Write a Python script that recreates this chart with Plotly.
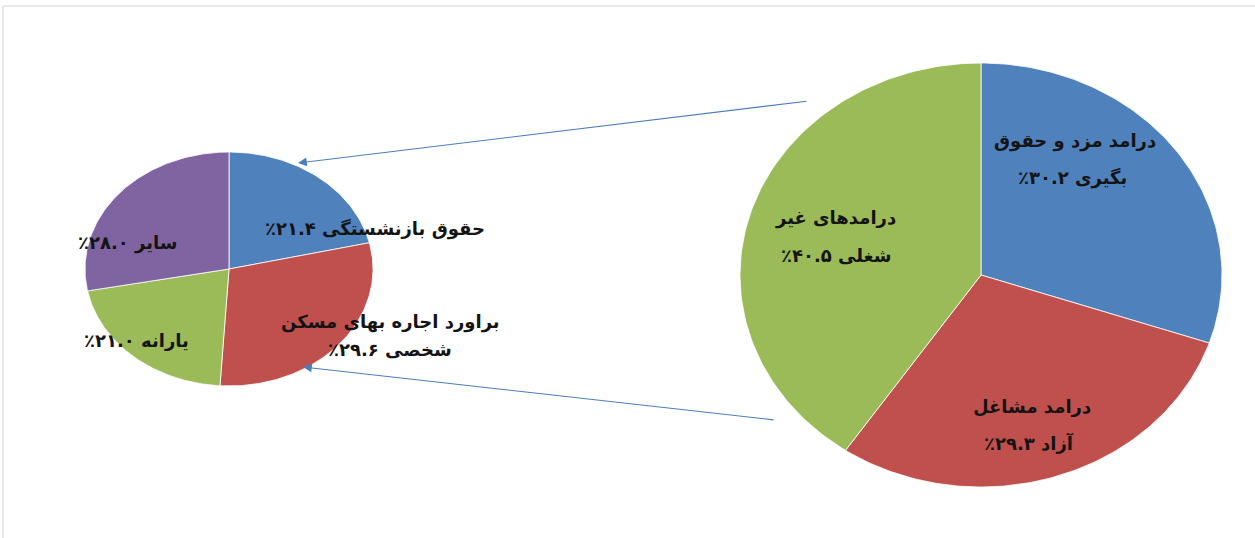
import numpy as np
import plotly.graph_objects as go

# ---- data ----
main_labels = ["درامد مزد و حقوق\nبگیری", "درامد مشاغل\nآزاد", "درامدهای غیر\nشغلی"]
main_values = [30.2, 29.3, 40.5]
main_colors = ["#4F81BD", "#C0504D", "#9BBB59"]

sub_labels = ["حقوق بازنشستگی", "براورد اجاره بهای مسکن\nشخصی", "یارانه", "سایر"]
sub_values = [21.4, 29.6, 21.0, 28.0]
sub_colors = ["#4F81BD", "#C0504D", "#9BBB59", "#8064A2"]

# ---- layout constants (page pixel space) ----
W, H = 1255, 538
MAIN = dict(cx=981, cy=275, a=241, b=212)
SUB = dict(cx=229, cy=269, a=144, b=117)

# label line positions (centre x, y for each line)
main_label_pos = [[(1075, 141), (1072, 178)],
                  [(1032, 406), (1029, 443)],
                  [(835, 218), (836, 255)]]
sub_label_pos = [[(375, 229)],
                 [(390, 322), (390, 349)],
                 [(136, 340)],
                 [(127, 243)]]

FA = str.maketrans("0123456789", "۰۱۲۳۴۵۶۷۸۹")


def fa(v):
    return f"{v:.1f}".translate(FA)


def rtl(s):
    return "\u202b" + s + "\u202c"


def wedge(geo, t0, t1, n=120):
    t = np.radians(np.linspace(t0, t1, n))
    xs = np.concatenate([[geo["cx"]], geo["cx"] + geo["a"] * np.sin(t), [geo["cx"]]])
    ys = np.concatenate([[geo["cy"]], geo["cy"] - geo["b"] * np.cos(t), [geo["cy"]]])
    return xs, ys


fig = go.Figure()


def add_pie(geo, values, colors, labels):
    total = sum(values)
    cum = 0.0
    for v, c, lab in zip(values, colors, labels):
        t0 = cum / total * 360
        cum += v
        t1 = cum / total * 360
        xs, ys = wedge(geo, t0, t1)
        fig.add_trace(go.Scatter(
            x=xs, y=ys, mode="lines", fill="toself", fillcolor=c,
            line=dict(color="rgba(255,255,255,0.8)", width=1),
            hoverinfo="text", text=lab.replace("\n", " ") + " " + fa(v) + "٪",
            showlegend=False))


add_pie(MAIN, main_values, main_colors, main_labels)
add_pie(SUB, sub_values, sub_colors, sub_labels)

annotations = []


def add_labels(labels, values, positions):
    for lab, v, pos in zip(labels, values, positions):
        lines = lab.split("\n")
        lines[-1] = lines[-1] + " " + fa(v) + "٪"
        for line, (x, y) in zip(lines, pos):
            annotations.append(dict(
                x=x, y=y, xref="x", yref="y", text=rtl(line), showarrow=False,
                font=dict(family="DejaVu Sans", size=18, color="#141414", weight="bold"),
                xanchor="center", yanchor="middle"))


add_labels(main_labels, main_values, main_label_pos)
add_labels(sub_labels, sub_values, sub_label_pos)

# connector arrows
for (x0, y0), (x1, y1) in [((808, 101), (298, 163)), ((775, 420), (303, 367))]:
    annotations.append(dict(
        x=x1, y=y1, ax=x0, ay=y0, xref="x", yref="y", axref="x", ayref="y",
        showarrow=True, arrowhead=2, arrowsize=1.6, arrowwidth=1.1,
        arrowcolor="#4A7EBB", text=""))

fig.update_layout(
    width=W, height=H,
    margin=dict(l=0, r=0, t=0, b=0),
    paper_bgcolor="white", plot_bgcolor="white",
    xaxis=dict(range=[0, W], visible=False, fixedrange=True),
    yaxis=dict(range=[H, 0], visible=False, fixedrange=True),
    annotations=annotations,
    shapes=[
        dict(type="line", xref="x", yref="y", x0=3, y0=6, x1=W, y1=6,
             line=dict(color="#d4d4d4", width=1)),
        dict(type="line", xref="x", yref="y", x0=3, y0=6, x1=3, y1=H,
             line=dict(color="#d4d4d4", width=1)),
    ],
)

fig.write_html(
    "out.html",
    config={"displayModeBar": False},
    post_script="document.body.style.margin='0';document.body.style.overflow='hidden';",
)
